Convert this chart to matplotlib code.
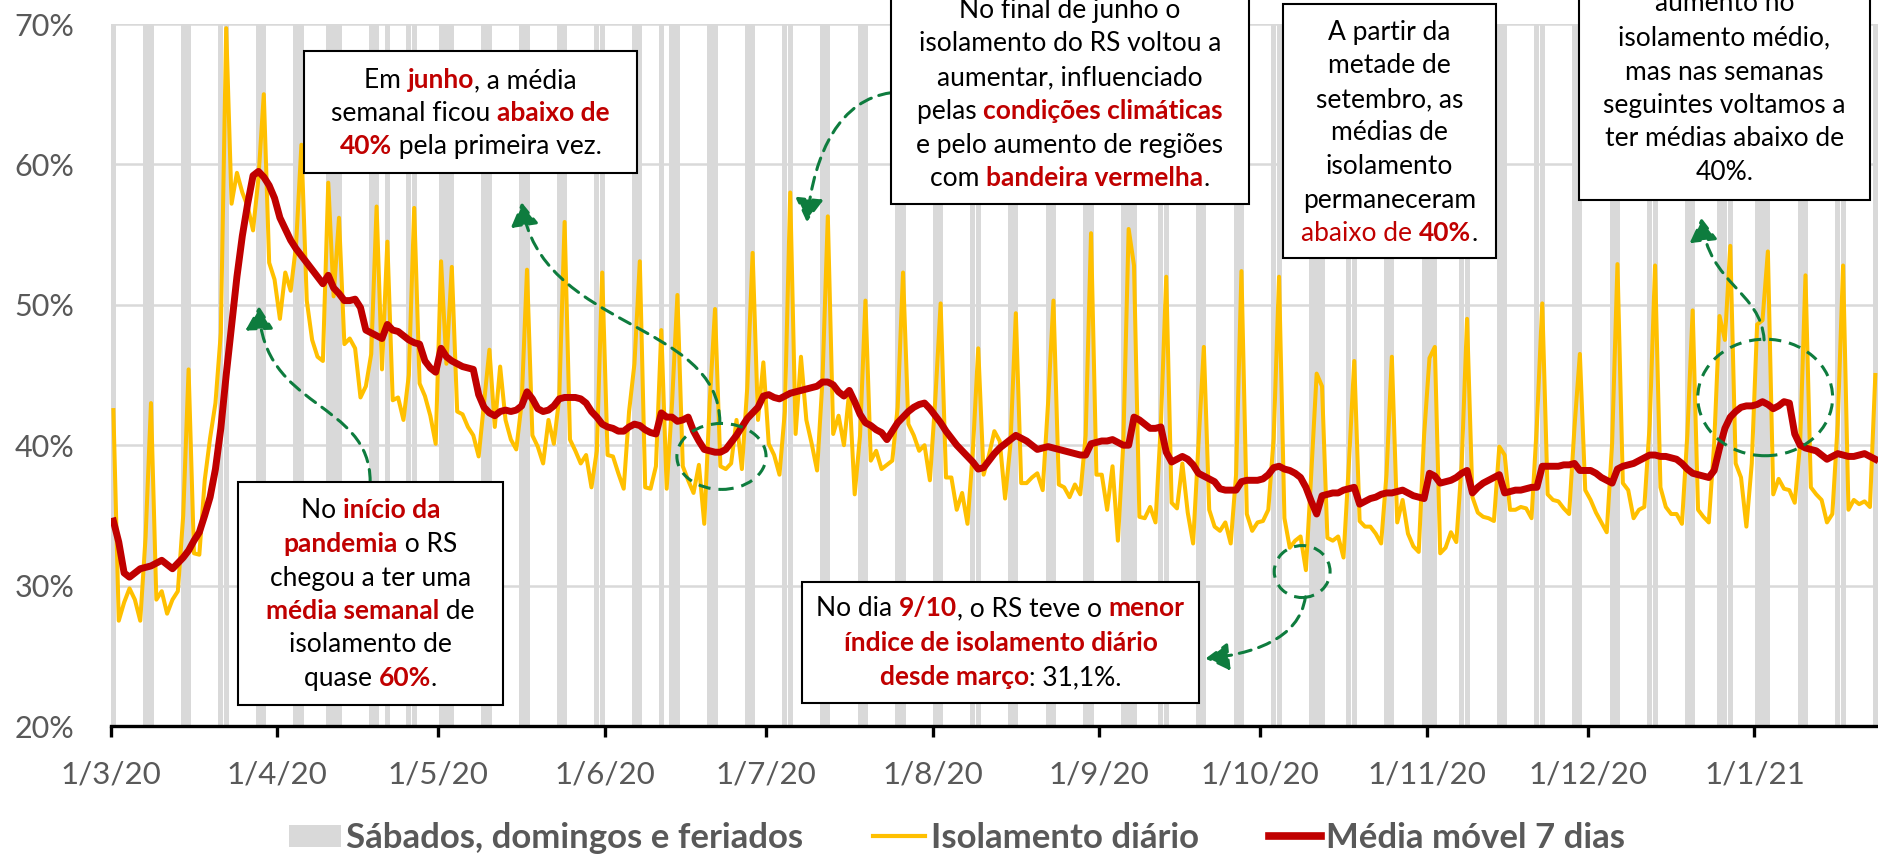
import re

import matplotlib
matplotlib.use("Agg")
import matplotlib.pyplot as plt
import numpy as np
import pandas as pd
from matplotlib.font_manager import FontProperties
from matplotlib.lines import Line2D
from matplotlib.patches import Ellipse, FancyArrowPatch, Patch, Rectangle
from matplotlib.path import Path

plt.rcParams["font.family"] = ["Lato", "DejaVu Sans"]

# --- data -----------------------------------------------------------------
START = "2020-03-01"

# isolamento diário (%), uma linha por semana (domingo .. sábado)
ISOLAMENTO = [
    42.5, 27.5, 28.8, 29.8, 29.0, 27.5, 33.5,
    43.0, 29.0, 29.6, 28.0, 29.0, 29.6, 35.0,
    45.4, 32.3, 32.2, 37.5, 40.5, 43.0, 48.0,
    69.7, 57.2, 59.4, 58.0, 57.0, 55.3, 59.0,
    65.0, 53.0, 51.8, 49.0, 52.3, 51.0, 54.2,
    61.4, 50.3, 47.5, 46.3, 46.0, 58.7, 50.6,
    56.2, 47.2, 47.6, 46.9, 43.4, 44.2, 46.5,
    57.0, 45.4, 54.5, 43.2, 43.4, 41.8, 45.0,
    56.9, 44.4, 43.5, 42.1, 40.1, 53.1, 45.8,
    52.7, 42.4, 42.2, 41.3, 40.7, 39.2, 43.0,
    46.8, 41.3, 45.6, 41.8, 40.4, 39.7, 43.0,
    52.5, 40.7, 39.9, 38.7, 41.8, 40.1, 43.4,
    55.9, 40.4, 39.6, 38.7, 39.3, 37.0, 39.6,
    52.3, 39.3, 39.2, 38.0, 36.9, 42.4, 45.8,
    53.1, 37.0, 36.9, 38.5, 48.2, 36.9, 43.0,
    50.7, 38.5, 37.5, 36.6, 38.6, 34.4, 43.0,
    49.7, 38.5, 38.3, 38.7, 41.8, 38.3, 44.1,
    53.7, 41.8, 45.9, 40.1, 39.3, 37.9, 42.4,
    58.0, 40.8, 46.3, 41.8, 40.1, 38.2, 44.6,
    56.3, 40.8, 42.1, 40.0, 43.9, 36.5, 40.7,
    50.3, 38.9, 39.6, 38.3, 38.6, 38.9, 42.7,
    52.3, 41.5, 40.7, 39.6, 40.0, 37.5, 43.2,
    50.1, 37.7, 37.7, 35.4, 36.6, 34.4, 39.6,
    46.9, 37.9, 39.3, 41.0, 40.3, 36.2, 40.1,
    49.4, 37.3, 37.3, 37.7, 38.0, 36.8, 43.0,
    50.3, 37.2, 37.0, 36.3, 37.2, 36.5, 40.7,
    55.1, 37.9, 37.9, 35.4, 38.5, 33.2, 40.1,
    55.4, 52.8, 34.9, 34.8, 35.6, 34.5, 41.5,
    52.0, 35.9, 35.5, 38.7, 35.2, 33.0, 40.1,
    47.0, 35.4, 34.2, 33.9, 34.5, 33.0, 37.9,
    52.4, 35.1, 33.9, 34.5, 34.6, 35.4, 40.5,
    52.0, 34.8, 32.7, 33.2, 33.5, 31.1, 38.0,
    45.1, 44.2, 33.4, 33.2, 33.5, 32.0, 38.7,
    46.0, 34.6, 34.2, 34.2, 33.7, 33.0, 37.9,
    46.3, 34.5, 36.1, 33.7, 32.8, 32.4, 40.7,
    46.2, 47.0, 32.3, 32.7, 33.8, 33.1, 38.7,
    49.0, 36.3, 35.2, 34.9, 34.8, 34.6, 39.9,
    39.3, 35.4, 35.4, 35.6, 35.5, 34.8, 41.5,
    50.1, 36.5, 36.1, 36.0, 35.5, 35.1, 41.3,
    46.5, 36.8, 36.1, 35.2, 34.5, 33.8, 40.1,
    52.9, 37.3, 36.8, 34.8, 35.4, 35.6, 41.5,
    52.8, 37.0, 35.6, 35.1, 35.1, 34.4, 40.7,
    49.6, 35.4, 34.9, 34.5, 40.1, 49.2, 47.5,
    54.2, 38.7, 37.7, 34.2, 38.7, 48.6, 48.9,
    53.8, 36.5, 37.6, 36.9, 36.8, 35.9, 40.1,
    52.1, 37.0, 36.5, 36.1, 34.5, 35.1, 41.5,
    52.8, 35.4, 36.1, 35.8, 36.0, 35.6, 45.0,
]

# média móvel de 7 dias (%), mesma grade de dias
MEDIA_MOVEL = [
    34.6, 33.1, 30.9, 30.6, 30.9, 31.2, 31.3,
    31.4, 31.6, 31.8, 31.5, 31.2, 31.6, 32.0,
    32.5, 33.2, 33.8, 35.0, 36.3, 38.3, 41.2,
    45.0, 48.5, 52.0, 54.9, 57.2, 59.2, 59.5,
    59.1, 58.5, 57.6, 56.2, 55.4, 54.6, 54.0,
    53.5, 53.0, 52.5, 52.0, 51.5, 52.1, 51.2,
    50.8, 50.3, 50.3, 50.4, 49.8, 48.2, 48.0,
    47.8, 47.6, 48.6, 48.2, 48.1, 47.8, 47.5,
    47.3, 47.2, 46.0, 45.5, 45.2, 46.9, 46.3,
    46.0, 45.8, 45.6, 45.5, 45.4, 43.6, 42.7,
    42.3, 42.1, 42.4, 42.5, 42.4, 42.5, 42.8,
    43.8, 43.3, 42.6, 42.4, 42.5, 42.8, 43.3,
    43.4, 43.4, 43.4, 43.3, 43.0, 42.4, 42.0,
    41.5, 41.3, 41.2, 41.0, 41.0, 41.3, 41.5,
    41.4, 41.1, 40.9, 40.8, 42.3, 42.0, 42.0,
    41.7, 41.8, 42.0, 41.0, 40.3, 39.7, 39.6,
    39.5, 39.5, 39.7, 40.2, 40.7, 41.3, 41.9,
    42.3, 42.7, 43.5, 43.6, 43.4, 43.3, 43.5,
    43.7, 43.8, 43.9, 44.0, 44.1, 44.2, 44.5,
    44.5, 44.3, 43.8, 43.5, 43.9, 43.1, 42.2,
    41.6, 41.4, 41.1, 40.9, 40.4, 41.0, 41.6,
    42.0, 42.4, 42.7, 42.9, 43.0, 42.6, 42.1,
    41.6, 41.0, 40.5, 40.0, 39.6, 39.2, 38.8,
    38.3, 38.4, 38.9, 39.4, 39.8, 40.1, 40.4,
    40.7, 40.5, 40.3, 40.0, 39.7, 39.8, 39.9,
    39.8, 39.7, 39.6, 39.5, 39.4, 39.3, 39.3,
    40.1, 40.2, 40.3, 40.3, 40.4, 40.2, 40.0,
    40.0, 42.0, 41.8, 41.5, 41.2, 41.2, 41.3,
    39.5, 38.8, 39.0, 39.2, 39.0, 38.6, 38.0,
    37.8, 37.6, 37.4, 36.9, 36.8, 36.8, 36.8,
    37.4, 37.5, 37.5, 37.5, 37.6, 37.9, 38.4,
    38.5, 38.3, 38.2, 38.0, 37.7, 37.0, 36.0,
    35.1, 36.4, 36.5, 36.6, 36.6, 36.8, 36.9,
    37.0, 35.8, 36.0, 36.2, 36.3, 36.5, 36.6,
    36.6, 36.7, 36.8, 36.6, 36.4, 36.3, 36.2,
    38.0, 37.8, 37.3, 37.4, 37.5, 37.7, 38.0,
    38.2, 36.6, 37.0, 37.3, 37.5, 37.7, 37.9,
    36.6, 36.7, 36.8, 36.8, 36.9, 37.0, 37.0,
    38.5, 38.5, 38.5, 38.5, 38.6, 38.6, 38.7,
    38.2, 38.2, 38.2, 38.0, 37.7, 37.5, 37.3,
    38.3, 38.5, 38.6, 38.7, 38.9, 39.1, 39.3,
    39.3, 39.2, 39.2, 39.1, 39.0, 38.7, 38.3,
    38.0, 37.9, 37.8, 37.7, 38.2, 39.8, 41.2,
    42.0, 42.4, 42.7, 42.8, 42.8, 42.9, 43.1,
    42.9, 42.6, 42.8, 43.1, 43.0, 40.8, 40.0,
    39.8, 39.7, 39.6, 39.3, 39.0, 39.2, 39.4,
    39.3, 39.2, 39.2, 39.3, 39.4, 39.2, 39.0,
]

FERIADOS = ["2020-04-10", "2020-04-21", "2020-05-01", "2020-06-11", "2020-09-07",
            "2020-10-12", "2020-11-02", "2020-12-25", "2021-01-01"]

Y_TICKS = [20, 30, 40, 50, 60, 70]
LEGENDA = ["Sábados, domingos e feriados", "Isolamento diário", "Média móvel 7 dias"]

# --- style ----------------------------------------------------------------
W, H, DPI = 1878, 855, 100
RED = "#C00000"
YELLOW = "#FFC000"
BAR_GRAY = "#D9D9D9"
GREEN = "#0E7C3E"
TXT_GRAY = "#595959"
FONT = "Lato"
NOTE_SIZE = 19
DASH = (0, (4, 2.6))

# annotation boxes: pixel rectangle (left, top, right, bottom), line centres, lines
# [b]..[/b] = red bold, [r]..[/r] = red regular
CAIXAS = [
    ((304, 51, 637, 173), [80, 113, 146],
     ["Em [b]junho[/b], a média",
      "semanal ficou [b]abaixo de[/b]",
      "[b]40%[/b] pela primeira vez."]),
    ((891, -10, 1249, 204), [10, 43, 77, 111, 145, 178],
     ["No final de junho o",
      "isolamento do RS voltou a",
      "aumentar, influenciado",
      "pelas [b]condições climáticas[/b]",
      "e pelo aumento de regiões",
      "com [b]bandeira vermelha[/b]."]),
    ((1283, 4, 1496, 258), [32, 65, 99, 132, 166, 200, 233],
     ["A partir da", "metade de", "setembro, as", "médias de", "isolamento",
      "permaneceram", "[r]abaixo de [/r][b]40%[/b]."]),
    ((1579, -10, 1870, 200), [3, 37, 72, 105, 138, 172],
     ["aumento no", "isolamento médio,", "mas nas semanas",
      "seguintes voltamos a", "ter médias abaixo de", "40%."]),
    ((238, 482, 503, 705), [510, 544, 578, 611, 644, 678],
     ["No [b]início da[/b]", "[b]pandemia[/b] o RS", "chegou a ter uma",
      "[b]média semanal[/b] de", "isolamento de", "quase [b]60%[/b]."]),
    ((802, 582, 1199, 703), [608, 643, 677],
     ["No dia [b]9/10[/b], o RS teve o [b]menor[/b]",
      "[b]índice de isolamento diário[/b]",
      "[b]desde março[/b]: 31,1%."]),
]

# dashed circles (day, %, width in days, height in %)
ELIPSES = [(113.7, 39.2, 16.6, 4.7), (221.8, 31.0, 10.4, 3.7), (308.0, 43.4, 25.1, 8.3)]

# dashed curved arrows: cubic bezier (start, ctrl1, ctrl2, tip) in (day, %)
SETAS = [
    [(48.3, 37.4), (48.3, 43.2), (28.2, 42.5), (27.6, 49.9)],
    [(113.4, 41.6), (113.4, 48.9), (79.9, 48.2), (76.5, 57.3)],
    [(145.2, 65.1), (135.9, 64.6), (131.0, 61.0), (129.6, 55.9)],
    [(222.4, 29.2), (221.3, 26.1), (212.0, 25.1), (203.8, 24.8)],
    [(307.8, 47.5), (307.2, 51.0), (297.5, 51.4), (296.1, 56.2)],
]


def fig_xy(x, y):
    return x / W, 1 - y / H


def seg_width(renderer, s, prop):
    w1, _, _ = renderer.get_text_width_height_descent("|" + s + "|", prop, ismath=False)
    w0, _, _ = renderer.get_text_width_height_descent("||", prop, ismath=False)
    return w1 - w0


def rich_line(fig, renderer, xc, yc, line):
    parts = []
    for tok in re.split(r"(\[b\].*?\[/b\]|\[r\].*?\[/r\])", line):
        if not tok:
            continue
        if tok.startswith("[b]"):
            parts.append((tok[3:-4], RED, "bold"))
        elif tok.startswith("[r]"):
            parts.append((tok[3:-4], RED, "normal"))
        else:
            parts.append((tok, "black", "normal"))
    props = [FontProperties(family=FONT, size=NOTE_SIZE, weight=w) for _, _, w in parts]
    widths = [seg_width(renderer, s, p) for (s, _, _), p in zip(parts, props)]
    x = xc - sum(widths) / 2
    base = yc + 8
    for (s, c, _), p, w in zip(parts, props, widths):
        fig.text(*fig_xy(x, base), s, fontproperties=p, color=c,
                 ha="left", va="baseline", zorder=7)
        x += w


def main():
    dias = pd.date_range(START, periods=len(ISOLAMENTO), freq="D")
    centro = np.arange(len(dias)) + 0.5
    cinza = (dias.dayofweek >= 5) | dias.isin(pd.to_datetime(FERIADOS))

    fig = plt.figure(figsize=(W / DPI, H / DPI), dpi=DPI)
    left, top, bottom = 110.7, 24, 726
    ax = fig.add_axes([left / W, 1 - bottom / H, 1 - left / W, (bottom - top) / H])

    ax.bar(centro[cinza], Y_TICKS[-1] - Y_TICKS[0], bottom=Y_TICKS[0], width=0.95,
           color=BAR_GRAY, zorder=1)
    ax.plot(centro, ISOLAMENTO, color=YELLOW, lw=2.9, zorder=3)
    ax.plot(centro, MEDIA_MOVEL, color=RED, lw=5.0, zorder=4)

    ax.set_xlim(0, len(dias))
    ax.set_ylim(Y_TICKS[0], Y_TICKS[-1])
    ax.set_yticks(Y_TICKS, [f"{v}%" for v in Y_TICKS])
    meses = pd.date_range(START, dias[-1], freq="MS")
    ax.set_xticks((meses - dias[0]).days, [f"{m.day}/{m.month}/{m.year % 100}" for m in meses])
    ax.grid(axis="y", color=BAR_GRAY, lw=1.8, zorder=0)
    ax.set_axisbelow(True)
    for s in ("left", "top", "right"):
        ax.spines[s].set_visible(False)
    ax.spines["bottom"].set_linewidth(2.4)
    ax.spines["bottom"].set_zorder(6)
    ax.tick_params(axis="x", length=8, width=2.4, pad=17, labelsize=22.5, labelcolor=TXT_GRAY)
    ax.tick_params(axis="y", length=0, pad=26, labelsize=22, labelcolor=TXT_GRAY)

    for cx, cy, w, h in ELIPSES:
        ax.add_patch(Ellipse((cx, cy), w, h, fill=False, ec=GREEN, lw=2.2, ls=DASH,
                             zorder=5, clip_on=False))
    for pts in SETAS:
        path = Path(pts, [Path.MOVETO, Path.CURVE4, Path.CURVE4, Path.CURVE4])
        ax.add_patch(FancyArrowPatch(path=path, arrowstyle="-|>,head_length=0.7,head_width=0.42",
                                     mutation_scale=20, color=GREEN, lw=2.2, ls=DASH,
                                     zorder=5, clip_on=False))

    renderer = fig.canvas.get_renderer()
    for (x0, y0, x1, y1), ys, lines in CAIXAS:
        fig.add_artist(Rectangle(fig_xy(x0, y1), (x1 - x0) / W, (y1 - y0) / H,
                                 transform=fig.transFigure, fc="white", ec="black",
                                 lw=1.5, zorder=6))
        for yc, line in zip(ys, lines):
            rich_line(fig, renderer, (x0 + x1) / 2, yc, line)

    handles = [Patch(facecolor=BAR_GRAY, edgecolor="none"),
               Line2D([], [], color=YELLOW, lw=3),
               Line2D([], [], color=RED, lw=5.5)]
    fig.legend(handles, LEGENDA, loc="center", bbox_to_anchor=fig_xy(957, 838), ncol=3,
               frameon=False, prop=FontProperties(family=FONT, weight="bold", size=25),
               labelcolor=TXT_GRAY, handlelength=1.5, handletextpad=0.17,
               columnspacing=2.0, handleheight=0.6)

    fig.savefig("out.png", dpi=DPI)


if __name__ == "__main__":
    main()
